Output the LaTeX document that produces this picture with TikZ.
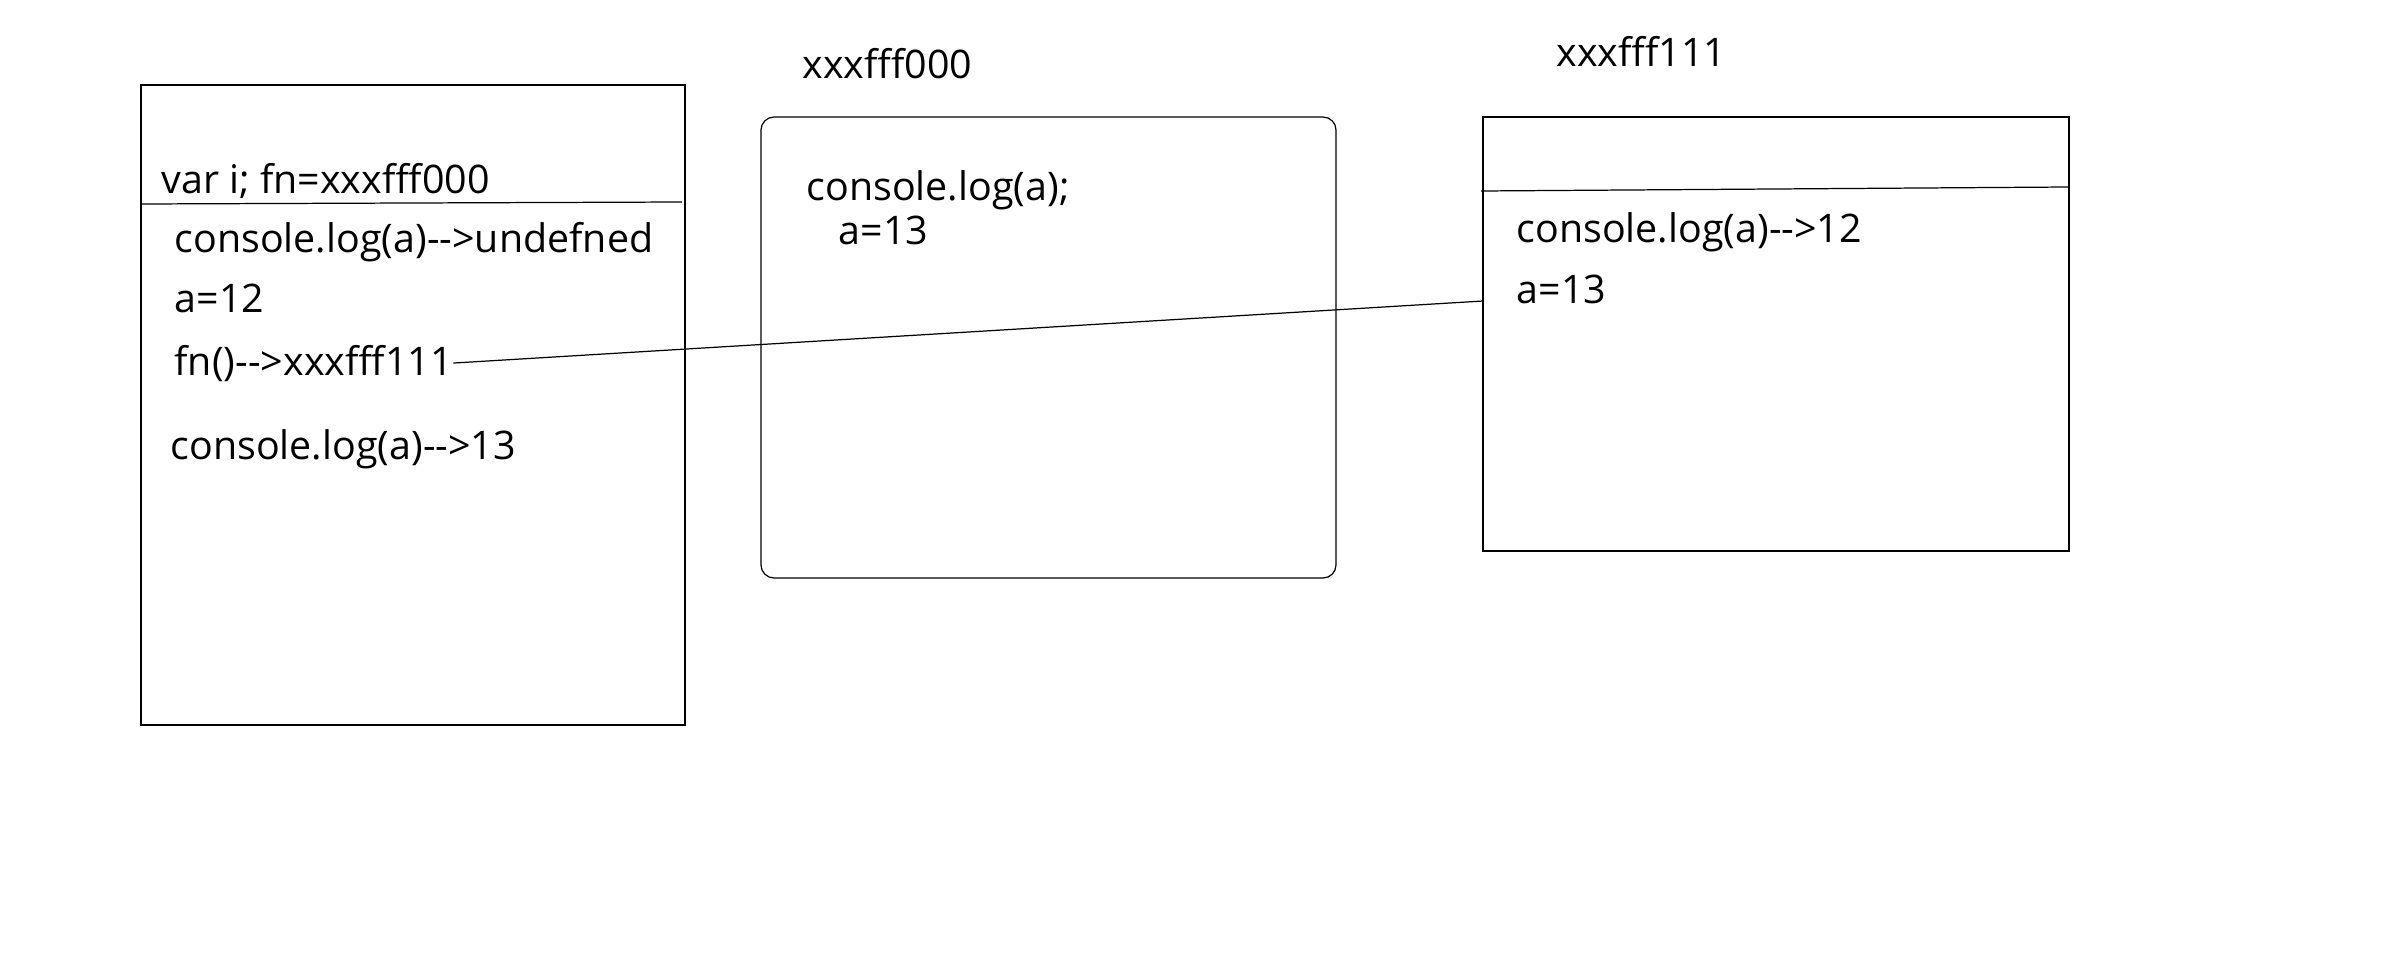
\documentclass[tikz,border=0pt]{standalone}
\usepackage{fontspec}
\setmainfont{Open Sans}

\begin{document}
\begin{tikzpicture}[x=0.01cm, y=-0.01cm, line width=0.35pt,
  code/.style={anchor=base west, inner sep=0pt, font=\fontsize{11.2}{13}\selectfont}]
\useasboundingbox (0,0) rectangle (2400,976);
\coordinate (A1) at (141,85);
\coordinate (A2) at (685,725);
\coordinate (AL) at (141,204);
\coordinate (AR) at (682,202);
\coordinate (B1) at (761,117);
\coordinate (B2) at (1336,578);
\coordinate (C1) at (1483,117);
\coordinate (C2) at (2069,551);
\coordinate (CL) at (1481,191);
\coordinate (CR) at (2068,187);
\coordinate (hit) at (1483,301);
\draw[solid] (A1) rectangle (A2);
\draw[solid] (AL) -- (AR);
\draw[solid, rounded corners=0.13cm] (B1) rectangle (B2);
\draw[solid] (C1) rectangle (C2);
\draw[solid] (CL) -- (CR);
\node[code] (vardecl) at (161,193) {var i; fn=xxxfff000};
\node[code] (logundef) at (174,252) {console.log(a)-{}->undefned};
\node[code] (assign12) at (174,312) {a=12};
\node[code] (fncall) at (174,375) {fn()-{}->xxxfff111};
\node[code] (log13) at (170,459) {console.log(a)-{}->13};
\node[code] (addr000) at (802,79) {xxxfff000};
\node[code] (logfn) at (806,201) {console.log(a);};
\node[code] (assignfn) at (838,245) {a=13};
\node[code] (addr111) at (1556,67) {xxxfff111};
\node[code] (log12) at (1516,242) {console.log(a)-{}->12};
\node[code] (assign13) at (1516,304) {a=13};
\draw[solid] (fncall.east) -- (hit);
\end{tikzpicture}
\end{document}
